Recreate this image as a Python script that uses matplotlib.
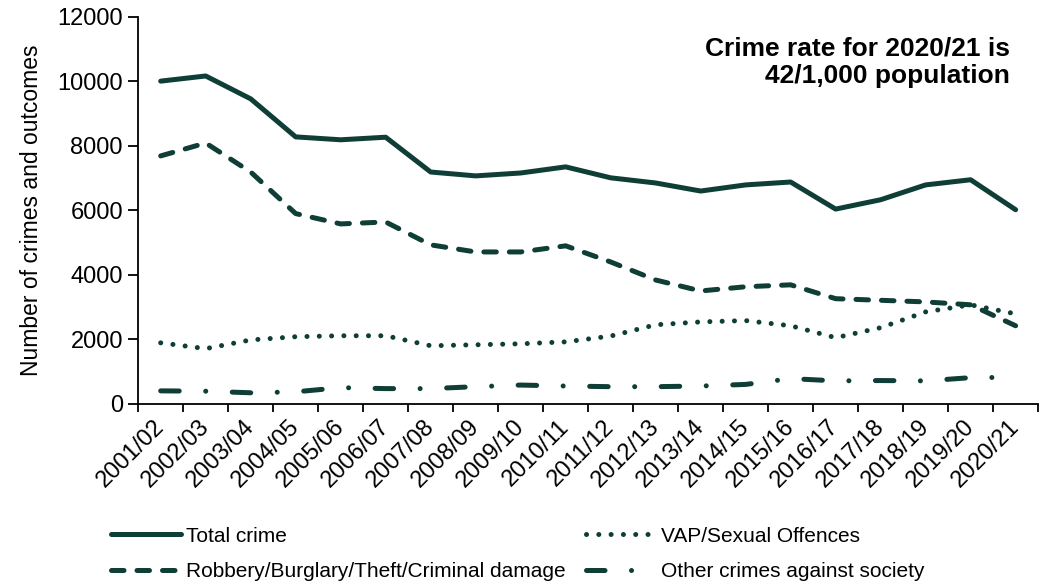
import matplotlib
matplotlib.use("Agg")
import matplotlib.pyplot as plt

plt.rcParams['font.family'] = ['Liberation Sans', 'DejaVu Sans']

years = ["2001/02", "2002/03", "2003/04", "2004/05", "2005/06", "2006/07", "2007/08",
         "2008/09", "2009/10", "2010/11", "2011/12", "2012/13", "2013/14", "2014/15",
         "2015/16", "2016/17", "2017/18", "2018/19", "2019/20", "2020/21"]

total = [10010, 10170, 9460, 8280, 8190, 8270, 7190, 7070, 7160, 7350,
         7010, 6850, 6600, 6790, 6880, 6040, 6330, 6790, 6950, 6020]
robbery = [7690, 8090, 7190, 5900, 5580, 5640, 4930, 4710, 4710, 4900,
           4400, 3840, 3500, 3630, 3690, 3260, 3210, 3160, 3070, 2420]
vap = [1890, 1710, 1980, 2080, 2110, 2110, 1800, 1830, 1860, 1920,
       2100, 2450, 2540, 2580, 2420, 2050, 2360, 2850, 3070, 2790]
other = [400, 390, 340, 370, 500, 470, 470, 530, 580, 550,
         530, 530, 550, 600, 780, 710, 720, 710, 810, 820]

col = '#0f3e36'
lw = 3.6

fig, ax = plt.subplots(figsize=(10.55, 5.86), dpi=100)
fig.subplots_adjust(left=0.131, right=0.984, top=0.971, bottom=0.311)

x = range(len(years))
l1, = ax.plot(x, total, color=col, lw=lw, solid_capstyle='round', solid_joinstyle='round', label='Total crime')
l2, = ax.plot(x, robbery, color=col, lw=lw, dashes=(2.5, 2.6), dash_capstyle='round',
              label='Robbery/Burglary/Theft/Criminal damage')
l3, = ax.plot(x, vap, color=col, lw=lw, dashes=(0.01, 2.45), dash_capstyle='round',
              label='VAP/Sexual Offences')
l4, = ax.plot(x, other, color=col, lw=lw, dashes=(3.7, 5.3, 0.01, 5.3), dash_capstyle='round',
              label='Other crimes against society')

ax.set_xlim(-0.5, len(years) - 0.5)
ax.set_ylim(0, 12000)
ax.set_yticks(range(0, 12001, 2000))
ax.set_xticks(list(x))
ax.set_xticklabels(years, rotation=45, ha='right', va='center', rotation_mode='anchor')
ax.set_xticks([i - 0.5 for i in range(len(years) + 1)], minor=True)
ax.tick_params(axis='x', which='major', length=0, pad=14, labelsize=17)
ax.tick_params(axis='x', which='minor', length=6, width=1.3)
ax.tick_params(axis='y', length=7, width=1.3, labelsize=17, pad=4)
for s in ['top', 'right']:
    ax.spines[s].set_visible(False)
for s in ['left', 'bottom']:
    ax.spines[s].set_linewidth(1.3)

ax.set_ylabel('Number of crimes and outcomes', fontsize=16.5, labelpad=10)

ax.text(0.969, 0.95, 'Crime rate for 2020/21 is\n42/1,000 population', transform=ax.transAxes,
        ha='right', va='top', fontsize=19, fontweight='bold', linespacing=1.2)

fig.legend(handles=[l1, l2, l3, l4], loc='lower left', bbox_to_anchor=(0.087, -0.024), ncol=2,
           frameon=False, fontsize=15, handlelength=3.4, handletextpad=0.2,
           columnspacing=1.0, labelspacing=0.8)

fig.savefig('out.png', dpi=100)
